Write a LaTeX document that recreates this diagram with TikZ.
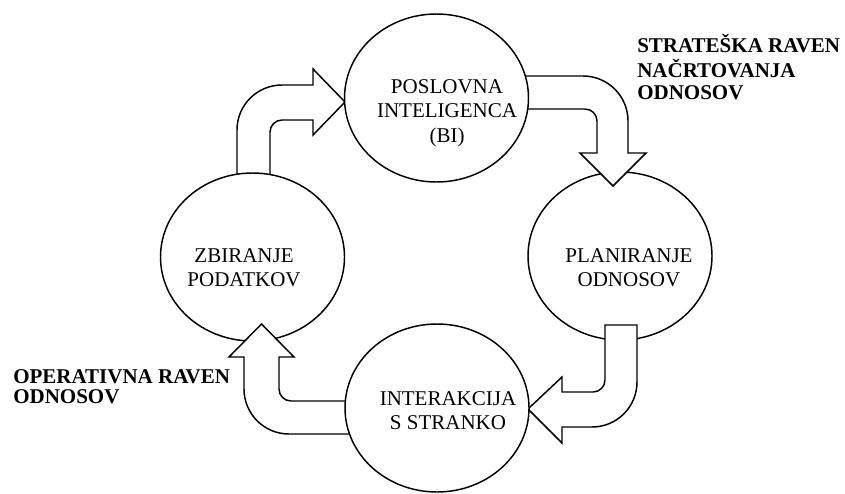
\documentclass[tikz,border=0pt]{standalone}
\usepackage{fontspec}
\setmainfont{Liberation Serif}
\usetikzlibrary{shapes.geometric}
\tikzset{
  stage/.style={ellipse, draw, fill=white, line width=1.1pt,
    minimum width=138pt, minimum height=126pt, inner sep=0pt, outer sep=0pt},
  stagetext/.style={anchor=base, inner sep=0pt,
    font=\fontsize{15.75}{18.4}\selectfont},
  levellabel/.style={anchor=base west, inner sep=0pt,
    font=\bfseries\fontsize{15.75}{17}\selectfont},
  bentarrow/.style={draw, fill=white, line width=1.1pt, line join=miter},
}
\begin{document}
\begin{tikzpicture}[x=0.75pt, y=-0.75pt]
  \useasboundingbox (0,0) rectangle (845,493);

  % right stage sits under the two arrows that touch it
  \node[stage] (plan) at (620,256) {};

  % bent block arrows (y grows downwards)
  \draw[bentarrow] (237,200) -- (237,130)
    .. controls (237,105.1) and (257.1,85) .. (282,85)
    -- (313,85) -- (313,69) -- (345,102) -- (313,135) -- (313,120)
    -- (282,120) .. controls (275.4,120) and (270,125.4) .. (270,132)
    -- (270,200) -- cycle;

  \draw[bentarrow] (505,76) -- (583,76)
    .. controls (607.9,76) and (628,96.1) .. (628,121)
    -- (628,153) -- (646,153) -- (613,186) -- (580,153) -- (597,153)
    -- (597,121) .. controls (597,114.4) and (591.6,109) .. (585,109)
    -- (505,109) -- cycle;

  \draw[bentarrow] (605,325) -- (637,325) -- (637,382)
    .. controls (637,406.9) and (616.9,427) .. (592,427)
    -- (562,427) -- (562,443) -- (528,409) -- (562,377) -- (562,392)
    -- (593,392) .. controls (599.6,392) and (605,386.6) .. (605,380)
    -- cycle;

  \node[stage] (collect) at (252.5,257) {};

  \draw[bentarrow] (365,401) -- (291,401)
    .. controls (284.4,401) and (279,395.6) .. (279,389)
    -- (279,357) -- (294,357) -- (261.5,324) -- (229,357) -- (244,357)
    -- (244,389) .. controls (244,413.9) and (264.1,434) .. (289,434)
    -- (365,434) -- cycle;

  \node[stage] (bi) at (436.5,98) {};
  \node[stage] (interact) at (437,408) {};

  % stage captions
  \node[stagetext] (bi-t) at (447,93)
    {\begin{tabular}[t]{@{}c@{}}POSLOVNA\\INTELIGENCA\\(BI)\end{tabular}};
  \node[stagetext] (plan-t) at (629,262)
    {\begin{tabular}[t]{@{}c@{}}PLANIRANJE\\ODNOSOV\end{tabular}};
  \node[stagetext] (interact-t) at (448,405)
    {\begin{tabular}[t]{@{}c@{}}INTERAKCIJA\\S STRANKO\end{tabular}};
  \node[stagetext] (collect-t) at (244,262)
    {\begin{tabular}[t]{@{}c@{}}ZBIRANJE\\PODATKOV\end{tabular}};

  % level labels
  \node[levellabel] (strat) at (637,52)
    {\begin{tabular}[t]{@{}l@{}}STRATEŠKA RAVEN\\NAČRTOVANJA\\ODNOSOV\end{tabular}};
  \node[levellabel, font=\bfseries\fontsize{15.75}{15}\selectfont] (oper) at (13,383)
    {\begin{tabular}[t]{@{}l@{}}OPERATIVNA RAVEN\\ODNOSOV\end{tabular}};
\end{tikzpicture}
\end{document}
